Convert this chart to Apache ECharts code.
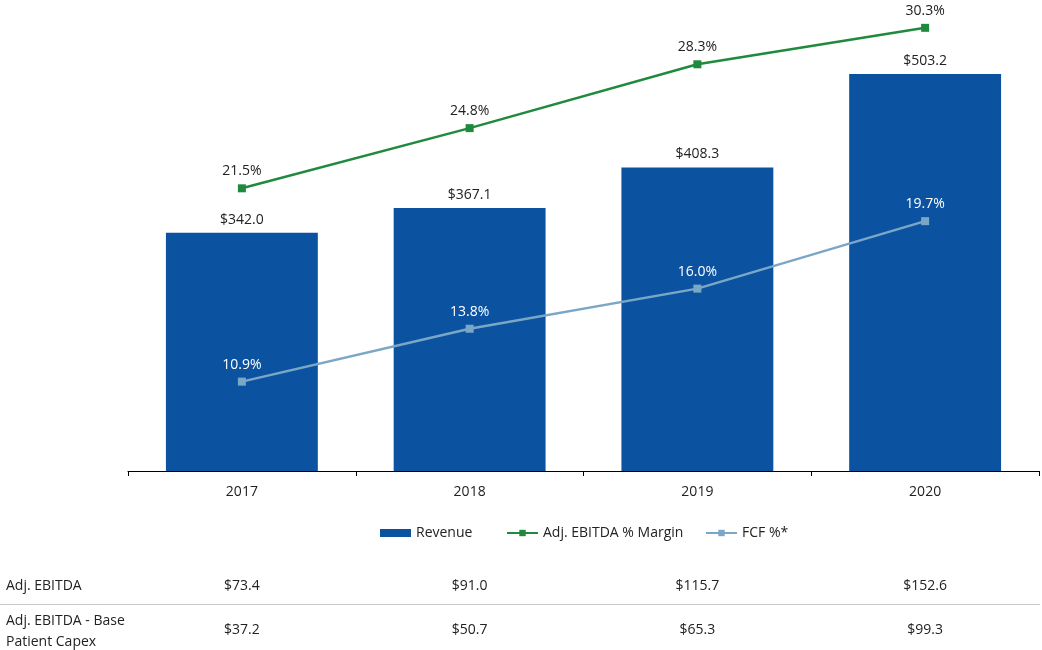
<!DOCTYPE html>
<html>
<head>
<meta charset="utf-8">
<script src="https://cdn.jsdelivr.net/npm/echarts@6/dist/echarts.min.js"></script>
<style>
html,body{margin:0;padding:0;background:#fff;}
#chart{width:1042px;height:650px;}
</style>
</head>
<body>
<div id="chart"></div>
<script>
const categories = ['2017', '2018', '2019', '2020'];
const revenue = [342.0, 367.1, 408.3, 503.2];
const ebitdaMargin = [21.5, 24.8, 28.3, 30.3];
const fcfPct = [10.9, 13.8, 16.0, 19.7];
const tableRowLabels = ['Adj. EBITDA', 'Adj. EBITDA - Base\nPatient Capex'];
const adjEbitda = ['$73.4', '$91.0', '$115.7', '$152.6'];
const adjEbitdaBase = ['$37.2', '$50.7', '$65.3', '$99.3'];

const FONT = '"Open Sans", "Noto Sans", sans-serif';
const FS = 14;
const chart = echarts.init(document.getElementById('chart'));

function legendFor(name, left, icon) {
  return {
    top: 521,
    left: left,
    itemWidth: 31,
    itemHeight: 8,
    itemGap: 5,
    textStyle: { fontFamily: FONT, fontSize: FS, color: '#222', padding: [0, 0, 0, 0] },
    data: [icon ? { name: name, icon: icon } : { name: name }]
  };
}

const option = {
  animation: false,
  textStyle: { fontFamily: FONT },
  grid: { left: 128, right: 3, top: 26, bottom: 179 },
  legend: [
    legendFor('Revenue', 375, 'rect'),
    legendFor('Adj. EBITDA % Margin', 501),
    legendFor('FCF %*', 700)
  ],
  xAxis: {
    type: 'category',
    data: categories,
    axisLine: { lineStyle: { color: '#000', width: 1 } },
    axisTick: { show: true, alignWithLabel: false, length: 5, lineStyle: { color: '#000' } },
    axisLabel: { fontFamily: FONT, fontSize: FS, color: '#222', margin: 14 }
  },
  yAxis: [
    { type: 'value', min: 100, max: 552, show: false, splitLine: { show: false } },
    { type: 'value', min: 6, max: 30.4, show: false, splitLine: { show: false } }
  ],
  series: [
    {
      name: 'Revenue',
      type: 'bar',
      data: revenue,
      barWidth: '66.7%',
      itemStyle: { color: '#0B53A0' },
      label: {
        show: true, position: 'top', distance: 6,
        fontFamily: FONT, fontSize: FS, color: '#222',
        formatter: p => '$' + p.value.toFixed(1)
      }
    },
    {
      name: 'Adj. EBITDA % Margin',
      type: 'line',
      yAxisIndex: 1,
      data: ebitdaMargin,
      clip: false,
      symbol: 'rect',
      symbolSize: 8,
      lineStyle: { color: '#1F8A3D', width: 2.5 },
      itemStyle: { color: '#1F8A3D' },
      label: {
        show: true, position: 'top', distance: 6,
        fontFamily: FONT, fontSize: FS, color: '#222',
        formatter: p => p.value.toFixed(1) + '%'
      }
    },
    {
      name: 'FCF %*',
      type: 'line',
      yAxisIndex: 1,
      data: fcfPct,
      clip: false,
      symbol: 'rect',
      symbolSize: 8,
      lineStyle: { color: '#7BA7C7', width: 2.5 },
      itemStyle: { color: '#7BA7C7' },
      label: {
        show: true, position: 'top', distance: 6,
        fontFamily: FONT, fontSize: FS, color: '#fff',
        formatter: p => p.value.toFixed(1) + '%'
      }
    }
  ]
};
chart.setOption(option);

// table below the chart
const elements = [];
const row1Y = 586, row2Y = 630, sepY = 604.5;
elements.push({
  type: 'text', x: 6, y: row1Y,
  style: { text: tableRowLabels[0], font: FS + 'px ' + FONT, fill: '#222', textVerticalAlign: 'middle' }
});
elements.push({
  type: 'text', x: 6, y: row2Y + 2,
  style: { text: tableRowLabels[1], font: FS + 'px ' + FONT, fill: '#222', lineHeight: 21, textVerticalAlign: 'middle' }
});
elements.push({
  type: 'line', shape: { x1: 0, y1: sepY, x2: 1040, y2: sepY },
  style: { stroke: '#c8c8c8', lineWidth: 1 }
});
categories.forEach((c, i) => {
  const x = chart.convertToPixel({ xAxisIndex: 0 }, c);
  elements.push({
    type: 'text', x: x, y: row1Y,
    style: { text: adjEbitda[i], font: FS + 'px ' + FONT, fill: '#222', textAlign: 'center', textVerticalAlign: 'middle' }
  });
  elements.push({
    type: 'text', x: x, y: row2Y,
    style: { text: adjEbitdaBase[i], font: FS + 'px ' + FONT, fill: '#222', textAlign: 'center', textVerticalAlign: 'middle' }
  });
});
chart.setOption({ graphic: elements });
</script>
</body>
</html>
